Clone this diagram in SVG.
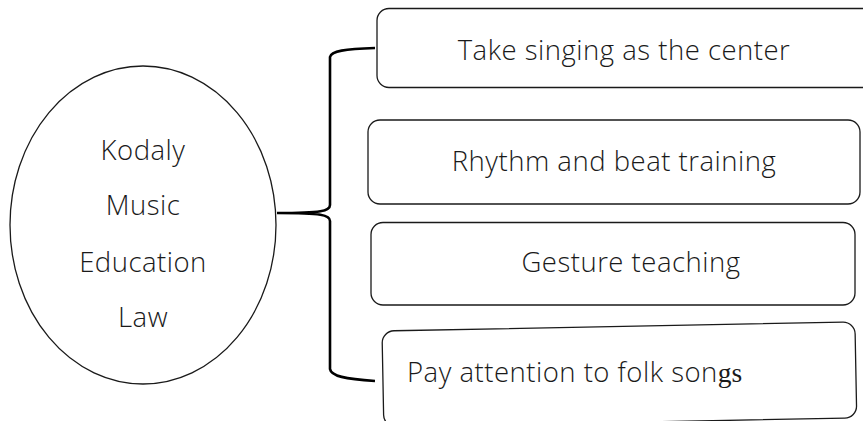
<svg xmlns="http://www.w3.org/2000/svg" width="863" height="421" viewBox="0 0 863 421">
<style>
.box{fill:#fff;stroke:#1a1a1a;stroke-width:1.3}
.t{font-family:"Open Sans","Noto Sans",sans-serif;font-weight:300;font-size:27.5px;letter-spacing:0.5px;fill:#1a1a1a;text-anchor:middle}
.br{fill:none;stroke:#000;stroke-width:2.6}
</style>
<rect width="863" height="421" fill="#fff"/>
<g id="center">
<ellipse cx="143" cy="225" rx="133" ry="159" fill="#fff" stroke="#1a1a1a" stroke-width="1.3"/>
<text class="t" x="143" y="160">Kodaly</text>
<text class="t" x="143" y="215">Music</text>
<text class="t" x="143" y="272">Education</text>
<text class="t" x="143" y="327">Law</text>
</g>
<g id="connectors">
<path class="br" d="M375,48 C345,49 331,51 330,57 V205 C330,211 322,213 277,213 C322,213 330,215 330,221 V369 C331,376 345,379 375,381"/>
</g>
<g id="n1">
<rect class="box" x="377" y="8.5" width="500" height="79" rx="12"/>
<text class="t" x="624" y="60">Take singing as the center</text>
</g>
<g id="n2">
<rect class="box" x="368" y="120" width="492" height="84" rx="12"/>
<text class="t" x="614" y="171">Rhythm and beat training</text>
</g>
<g id="n3">
<rect class="box" x="371" y="222.5" width="484" height="82.5" rx="12"/>
<text class="t" x="631" y="272">Gesture teaching</text>
</g>
<g id="n4">
<rect class="box" x="382" y="331" width="473" height="96" rx="12" transform="rotate(-1.1 382 331)"/>
<text class="t" x="407" y="382" style="text-anchor:start">Pay attention to folk son<tspan style="font-family:'Liberation Serif',serif;font-weight:400;letter-spacing:0">gs</tspan></text>
</g>
</svg>
